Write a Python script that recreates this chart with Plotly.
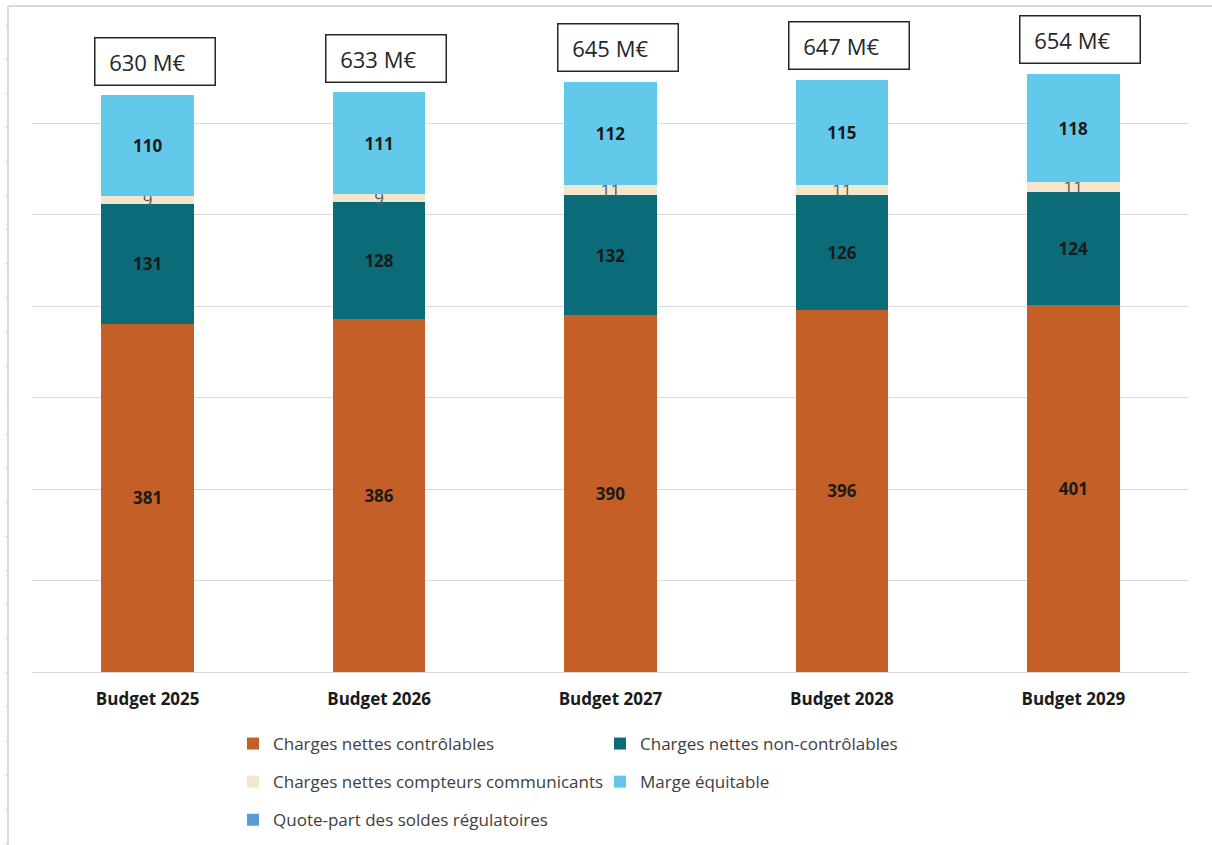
import plotly.graph_objects as go

# Budget years and revenue components (M€)
categories = ["Budget 2025", "Budget 2026", "Budget 2027", "Budget 2028", "Budget 2029"]
charges_controlables = [381, 386, 390, 396, 401]
charges_non_controlables = [131, 128, 132, 126, 124]
charges_compteurs = [9, 9, 11, 11, 11]
marge_equitable = [110, 111, 112, 115, 118]
quote_part_soldes = [0, 0, 0, 0, 0]
totals = [630, 633, 645, 647, 654]

FONT = "Open Sans"
W, H = 1212, 845
L, R, T, B = 32, 23, 32, 173

series = [
    ("Charges nettes contrôlables", charges_controlables, "#C55F28", "legend",
     dict(color="#1a1a1a", size=17, family=FONT, weight="bold")),
    ("Charges nettes non-contrôlables", charges_non_controlables, "#0B6B78", "legend2",
     dict(color="#1a1a1a", size=17, family=FONT, weight="bold")),
    ("Charges nettes compteurs communicants", charges_compteurs, "#F3E6CC", "legend",
     dict(color="#595959", size=17, family=FONT)),
    ("Marge équitable", marge_equitable, "#63C9EA", "legend2",
     dict(color="#1a1a1a", size=17, family=FONT, weight="bold")),
    ("Quote-part des soldes régulatoires", quote_part_soldes, "#5B9BD5", "legend", None),
]

fig = go.Figure()
for i, (name, vals, color, leg, tfont) in enumerate(series):
    fig.add_trace(go.Bar(
        x=categories,
        y=vals,
        name=name,
        marker=dict(color=color, line=dict(width=0)),
        width=0.4,
        text=[str(v) for v in vals] if tfont else None,
        textposition="inside" if tfont else "none",
        insidetextanchor="middle",
        textangle=0,
        constraintext="none",
        insidetextfont=tfont,
        legend=leg,
        legendgroup=f"g{i}",
        hoverinfo="skip",
    ))

# Total boxes above each bar
for cat, tot in zip(categories, totals):
    fig.add_annotation(
        x=cat, y=tot, xref="x", yref="y",
        text="\u00a0" + f"{tot} M€",
        showarrow=False,
        xanchor="center", yanchor="bottom",
        xshift=7, yshift=10,
        align="left", valign="middle",
        width=103, height=30,
        borderpad=8, borderwidth=1.5, bordercolor="#262626",
        bgcolor="white",
        font=dict(family=FONT, size=22, color="#262626"),
    )

# Pixel -> paper conversion for elements placed in the margins
def px_x(p):
    return (p - L) / (W - L - R)

def px_y(p):
    return (H - B - p) / (H - T - B)

# Worksheet frame behind the chart
frame_col = "#d9d9d9"
fig.add_shape(type="line", xref="paper", yref="paper",
              x0=px_x(8), x1=px_x(8), y0=px_y(6), y1=px_y(845),
              line=dict(color=frame_col, width=2))
fig.add_shape(type="line", xref="paper", yref="paper",
              x0=px_x(8), x1=px_x(1212), y0=px_y(6), y1=px_y(6),
              line=dict(color=frame_col, width=2))
k = 0
while 25 + 34.1 * k < 845:
    yy = 25 + 34.1 * k
    fig.add_shape(type="line", xref="paper", yref="paper",
                  x0=px_x(5), x1=px_x(8), y0=px_y(yy), y1=px_y(yy),
                  line=dict(color=frame_col, width=1))
    k += 1

legend_common = dict(
    orientation="v",
    xref="paper", yref="paper",
    xanchor="left", yanchor="top",
    traceorder="grouped",
    tracegroupgap=13,
    font=dict(family=FONT, size=17, color="#404040"),
    bgcolor="rgba(0,0,0,0)",
    itemclick=False, itemdoubleclick=False,
)

fig.update_layout(
    width=W, height=H,
    margin=dict(l=L, r=R, t=T, b=B, autoexpand=False),
    paper_bgcolor="white",
    plot_bgcolor="white",
    barmode="stack",
    showlegend=True,
    legend=dict(x=px_x(233), y=px_y(726), **legend_common),
    legend2=dict(x=px_x(600), y=px_y(726), **legend_common),
    xaxis=dict(
        showgrid=False,
        showline=True, linecolor="#d9d9d9", linewidth=1,
        ticks="",
        tickfont=dict(family=FONT, size=17, color="#1a1a1a", weight="bold"),
        ticklabelstandoff=12,
    ),
    yaxis=dict(
        range=[0, 700], dtick=100,
        showgrid=True, gridcolor="#d9d9d9", gridwidth=1,
        zeroline=False, showticklabels=False, ticks="",
    ),
)

fig.write_html("out.html")
